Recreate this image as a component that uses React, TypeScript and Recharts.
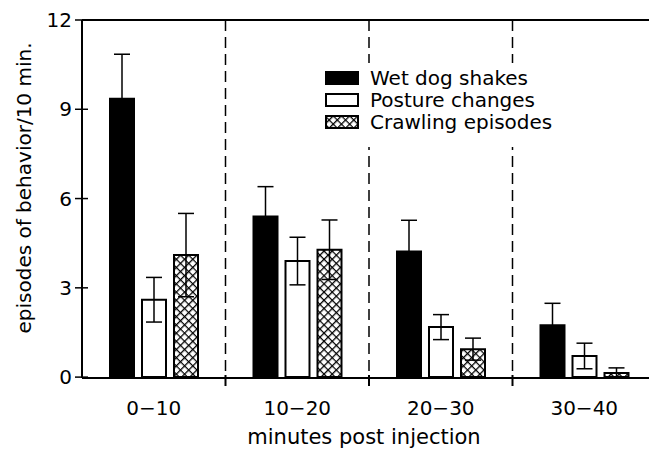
import { BarChart, Bar, XAxis, YAxis, CartesianGrid, ErrorBar, Legend, ReferenceLine } from "recharts";

const categories = ["0−10", "10−20", "20−30", "30−40"];
const wetDog = [9.35, 5.4, 4.22, 1.74];
const wetDogSem = [1.5, 1.0, 1.05, 0.74];
const posture = [2.6, 3.9, 1.68, 0.71];
const postureSem = [0.75, 0.8, 0.42, 0.43];
const crawling = [4.1, 4.28, 0.94, 0.14];
const crawlingSem = [1.4, 1.0, 0.37, 0.17];
const yTicks = [0, 3, 6, 9, 12];

const data = categories.map((c, i) => ({
  cat: c,
  wet: wetDog[i],
  wetErr: wetDogSem[i],
  post: posture[i],
  postErr: postureSem[i],
  crawl: crawling[i],
  crawlErr: crawlingSem[i],
}));

const FONT = "'DejaVu Sans', sans-serif";
const W = 670;
const H = 453;
const MARGIN = { top: 20, right: 14, bottom: 0, left: 0 };
const Y_W = 82;
const BAND = (W - MARGIN.left - MARGIN.right - Y_W) / categories.length;

const legendOrder = ["wet", "post", "crawl"];
const seriesStyle: Record<string, { fill: string }> = {
  wet: { fill: "#000" },
  post: { fill: "#fff" },
  crawl: { fill: "url(#crosshatch)" },
};

const XTick = ({ x, y, payload, index }: any) => (
  <g>
    <text x={x} y={y + 37} textAnchor="middle" fontSize={20} fontFamily={FONT} fill="#000">
      {payload.value}
    </text>
    {index > 0 && (
      <line x1={x - BAND / 2} x2={x - BAND / 2} y1={y - 3} y2={y + 8} stroke="#000" strokeWidth={2} />
    )}
  </g>
);

const YTick = ({ x, y, payload }: any) => (
  <g>
    <line x1={x - 7} x2={x + 6} y1={y} y2={y} stroke="#000" strokeWidth={1.5} />
    <text x={x - 10} y={y} dy="0.36em" textAnchor="end" fontSize={20} fontFamily={FONT} fill="#000">
      {payload.value}
    </text>
  </g>
);

const LegendContent = ({ payload }: any) => {
  const items = [...(payload || [])].sort(
    (a: any, b: any) => legendOrder.indexOf(a.dataKey) - legendOrder.indexOf(b.dataKey)
  );
  return (
    <div style={{ paddingTop: 4, paddingLeft: 7, fontFamily: FONT, fontSize: 20, color: "#000" }}>
      {items.map((entry: any) => (
        <div key={entry.value} style={{ display: "flex", alignItems: "center", height: 22 }}>
          <svg width={34} height={14} style={{ marginRight: 11, flex: "none" }}>
            <rect x={1} y={1} width={32} height={12} fill={seriesStyle[entry.dataKey]?.fill} stroke="#000" strokeWidth={2} />
          </svg>
          <span style={{ whiteSpace: "nowrap" }}>{entry.value}</span>
        </div>
      ))}
    </div>
  );
};

export default function App() {
  return (
    <div style={{ position: "absolute", left: 0, top: 0, width: 649, height: 453, overflow: "hidden", background: "#fff" }}>
      <BarChart width={W} height={H} data={data} margin={MARGIN} barSize={24} barGap={8}>
        <defs>
          <pattern id="crosshatch" patternUnits="userSpaceOnUse" width={5.8} height={5.8} patternTransform="rotate(45)">
            <rect width={5.8} height={5.8} fill="#fff" />
            <path d="M0 0 H5.8 M0 0 V5.8" stroke="#000" strokeWidth={2.6} />
          </pattern>
        </defs>
        <CartesianGrid
          horizontal={false}
          stroke="#000"
          strokeWidth={1.5}
          strokeDasharray="11 6"
          verticalCoordinatesGenerator={({ offset }: any) =>
            [1, 2, 3].map((i) => offset.left + (offset.width * i) / categories.length)
          }
        />
        <XAxis
          dataKey="cat"
          height={75}
          tickLine={false}
          tickSize={0}
          tickMargin={0}
          axisLine={{ stroke: "#000", strokeWidth: 2 }}
          tick={<XTick />}
          label={{
            value: "minutes post injection",
            position: "insideBottom",
            offset: 9,
            dx: -5,
            style: { fontFamily: FONT, fontSize: 21, fill: "#000" },
          }}
        />
        <YAxis
          width={Y_W}
          domain={[0, 12]}
          ticks={yTicks}
          interval={0}
          tickLine={false}
          tickSize={0}
          tickMargin={0}
          axisLine={{ stroke: "#000", strokeWidth: 2 }}
          tick={<YTick />}
          label={{
            content: ({ viewBox }: any) => {
              const cx = viewBox.x + 24;
              const cy = viewBox.y + viewBox.height / 2 - 11;
              return (
                <text x={cx} y={cy} transform={`rotate(-90 ${cx} ${cy})`} textAnchor="middle" dy="0.35em" fontSize={20} fontFamily={FONT} fill="#000">
                  episodes of behavior/10 min.
                </text>
              );
            },
          }}
        />
        <ReferenceLine y={12} stroke="#000" strokeWidth={2} />
        <Legend
          layout="vertical"
          align="center"
          verticalAlign="middle"
          content={<LegendContent />}
          wrapperStyle={{ position: "absolute", left: 318, top: 63, width: 250, height: 84, background: "#fff" }}
        />
        <Bar dataKey="wet" name="Wet dog shakes" fill="#000" stroke="#000" strokeWidth={2} isAnimationActive={false}>
          <ErrorBar dataKey="wetErr" width={8} stroke="#000" strokeWidth={1.5} />
        </Bar>
        <Bar dataKey="post" name="Posture changes" fill="#fff" stroke="#000" strokeWidth={2} isAnimationActive={false}>
          <ErrorBar dataKey="postErr" width={8} stroke="#000" strokeWidth={1.5} />
        </Bar>
        <Bar dataKey="crawl" name="Crawling episodes" fill="url(#crosshatch)" stroke="#000" strokeWidth={2} isAnimationActive={false}>
          <ErrorBar dataKey="crawlErr" width={8} stroke="#000" strokeWidth={1.5} />
        </Bar>
      </BarChart>
    </div>
  );
}
